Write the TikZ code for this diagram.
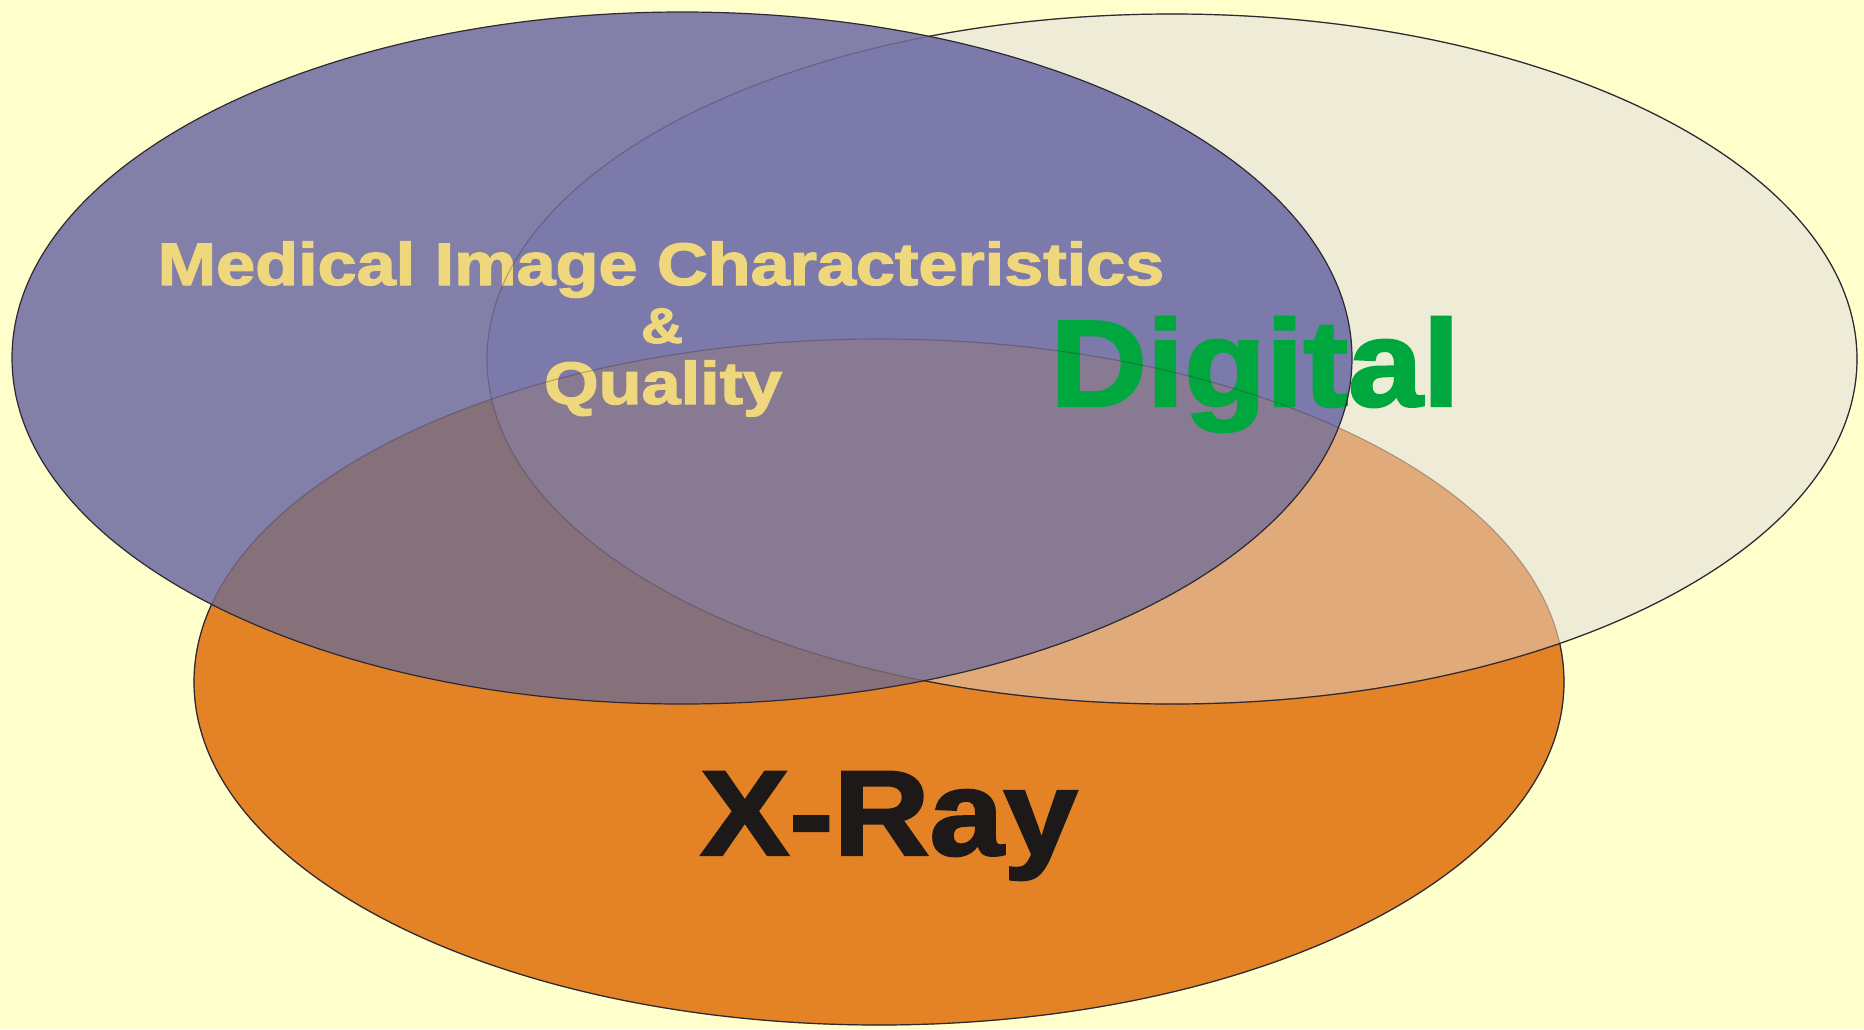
\documentclass[tikz,border=0pt]{standalone}
\usepackage{graphicx}
\usepackage{fontspec}
\setmainfont{Liberation Sans}
\newfontfamily\heavyfont{Liberation Sans Bold}[UprightFeatures={FakeBold=2}]
\definecolor{bgc}{RGB}{255,255,204}
\definecolor{orangec}{RGB}{228,131,38}
\definecolor{beigec}{RGB}{238,235,214}
\definecolor{beorc}{RGB}{224,170,122}
\definecolor{bluec}{RGB}{130,128,168}
\definecolor{blbec}{RGB}{124,122,170}
\definecolor{bloric}{RGB}{134,112,122}
\definecolor{triplec}{RGB}{136,122,146}
\definecolor{linec}{RGB}{45,40,50}
\definecolor{medc}{RGB}{238,215,124}
\definecolor{digc}{RGB}{0,166,62}
\definecolor{xrayc}{RGB}{30,25,25}
\begin{document}
\begin{tikzpicture}[x=1pt,y=-1pt,
  outl/.style={draw=linec,line width=1.2pt},
  faint/.style={draw=linec,line width=1.1pt,opacity=0.3},
  lbl/.style={inner sep=0pt,anchor=base,font=\heavyfont}]
\fill[bgc] (0,0) rectangle (1864,1029);
\useasboundingbox (0,0) rectangle (1864,1029);
% orange (X-Ray)
\fill[orangec] (879,682) ellipse [x radius=685pt, y radius=343pt];
\path[outl] (879,682) ellipse [x radius=685pt, y radius=343pt];
% beige (Digital)
\fill[beigec] (1172,359) ellipse [x radius=685pt, y radius=345pt];
\begin{scope}
  \clip (1172,359) ellipse [x radius=685pt, y radius=345pt];
  \fill[beorc] (879,682) ellipse [x radius=685pt, y radius=343pt];
\end{scope}
\path[outl] (1172,359) ellipse [x radius=685pt, y radius=345pt];
% blue (Medical image characteristics & quality)
\fill[bluec] (682,358) ellipse [x radius=670pt, y radius=346pt];
\begin{scope}
  \clip (682,358) ellipse [x radius=670pt, y radius=346pt];
  \fill[blbec] (1172,359) ellipse [x radius=685pt, y radius=345pt];
  \fill[bloric] (879,682) ellipse [x radius=685pt, y radius=343pt];
  \clip (1172,359) ellipse [x radius=685pt, y radius=345pt];
  \fill[triplec] (879,682) ellipse [x radius=685pt, y radius=343pt];
\end{scope}
% texts
\node[lbl,text=medc] (med) at (661,285) {\fontsize{60}{60}\selectfont\scalebox{1.17}[1]{Medical Image Characteristics}};
\node[lbl,text=medc] (amp) at (662,343) {\fontsize{50}{50}\selectfont\scalebox{1.17}[1]{\&}};
\node[lbl,text=medc] (qual) at (663,404) {\fontsize{60}{60}\selectfont\scalebox{1.17}[1]{Quality}};
\node[lbl,text=digc] (dig) at (1255,406) {\fontsize{123}{123}\selectfont\scalebox{1.09}[1]{Digital}};
\node[lbl,text=xrayc] (xray) at (889,855) {\fontsize{121}{121}\selectfont\scalebox{1.10}[1]{X-Ray}};
% outlines
\path[faint] (879,682) ellipse [x radius=685pt, y radius=343pt];
\path[faint] (1172,359) ellipse [x radius=685pt, y radius=345pt];
\path[outl] (682,358) ellipse [x radius=670pt, y radius=346pt];
\end{tikzpicture}
\end{document}
